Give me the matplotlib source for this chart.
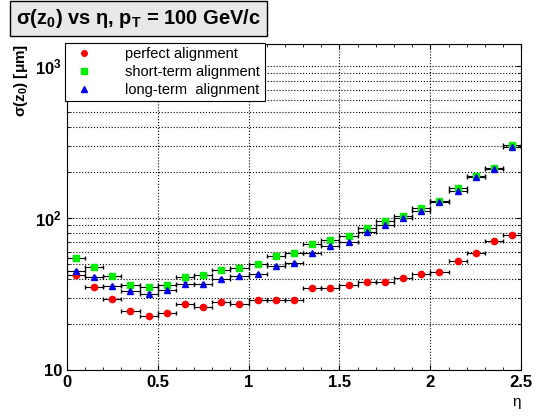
import matplotlib
matplotlib.use("Agg")
import matplotlib.pyplot as plt
import matplotlib.ticker as mticker
from matplotlib.lines import Line2D
import numpy as np

plt.rcParams["font.family"] = ["Liberation Sans", "DejaVu Sans"]
plt.rcParams["mathtext.fontset"] = "custom"
plt.rcParams["mathtext.rm"] = "Liberation Sans"
plt.rcParams["mathtext.bf"] = "Liberation Sans:bold"

eta = [0.05, 0.15, 0.25, 0.35, 0.45, 0.55, 0.65, 0.75, 0.85, 0.95, 1.05, 1.15, 1.25,
       1.35, 1.45, 1.55, 1.65, 1.75, 1.85, 1.95, 2.05, 2.15, 2.25, 2.35, 2.45]
perfect = [42.2, 35.0, 29.3, 24.4, 22.8, 23.7, 27.2, 26.1, 28.0, 27.2, 28.7, 29.0, 29.0,
           34.6, 34.5, 36.3, 37.9, 37.9, 40.5, 42.6, 44.1, 51.9, 58.6, 70.6, 77.3]
short_term = [54.8, 47.4, 41.5, 36.3, 35.3, 36.3, 40.9, 42.0, 45.5, 47.1, 49.8, 56.2, 58.6,
              67.8, 71.7, 76.5, 86.3, 96.0, 103, 117, 129, 157, 189, 213, 302]
long_term = [45.0, 40.9, 35.7, 33.1, 31.8, 33.4, 37.0, 36.6, 39.7, 41.5, 42.8, 48.5, 50.6,
             59.1, 65.7, 69.8, 81.3, 89.5, 100, 111, 127, 151, 186, 210, 296]

fig = plt.figure(figsize=(5.39, 4.2), dpi=100)
ax = fig.add_axes([0.124, 0.119, 0.843, 0.776])

series = [
    (perfect, "o", "#ff0000", "perfect alignment"),
    (short_term, "s", "#00ee00", "short-term alignment"),
    (long_term, "^", "#0000ee", "long-term  alignment"),
]
handles = []
for vals, mk, col, lab in series:
    v = np.array(vals)
    ax.errorbar(eta, v, xerr=0.05, yerr=v * 0.02, fmt=mk, color=col, ms=4.5,
                ecolor="black", elinewidth=0.8, capsize=1.5)
    handles.append(Line2D([], [], ls="none", marker=mk, color=col, ms=4, label=lab))

ax.set_yscale("log")
ax.set_xlim(0, 2.5)
ax.set_ylim(10, 1400)
ax.grid(True, which="both", axis="y", ls=":", color="black", lw=0.8)
ax.grid(True, which="major", axis="x", ls=":", color="black", lw=0.8)
ax.xaxis.set_major_locator(mticker.MultipleLocator(0.5))
ax.xaxis.set_minor_locator(mticker.MultipleLocator(0.1))
ax.xaxis.set_major_formatter(mticker.FuncFormatter(lambda x, _: f"{x:g}"))
ax.yaxis.set_major_formatter(mticker.FuncFormatter(
    lambda y, _: "10" if abs(y - 10) < 1e-6 else f"$\\mathbf{{10^{{{int(round(np.log10(y)))}}}}}$"))
ax.yaxis.set_minor_formatter(mticker.NullFormatter())
ax.tick_params(which="both", direction="in", top=True, right=True)
ax.tick_params(labelsize=12)
for lbl in ax.get_xticklabels() + ax.get_yticklabels():
    lbl.set_fontweight("bold")

ax.set_xlabel("η", fontsize=11, loc="right")
ax.set_ylabel("σ(z$_\\mathbf{0}$) [μm]", fontsize=11, fontweight="bold", loc="top")

leg = ax.legend(handles=handles, loc="upper left", bbox_to_anchor=(-0.003, 1.003),
                fontsize=10.5, fancybox=False, edgecolor="black", framealpha=1,
                borderaxespad=0, handletextpad=1.8, borderpad=0.3, labelspacing=0.25)
leg.get_frame().set_linewidth(0.8)

fig.text(0.03, 0.955, "σ(z$_\\mathbf{0}$) vs η, p$_\\mathbf{T}$ = 100 GeV/c",
         fontsize=14.5, fontweight="bold", va="center",
         bbox=dict(boxstyle="square,pad=0.3", fc="#e8e8e8", ec="black", lw=1))

fig.savefig("out.png", dpi=100)
